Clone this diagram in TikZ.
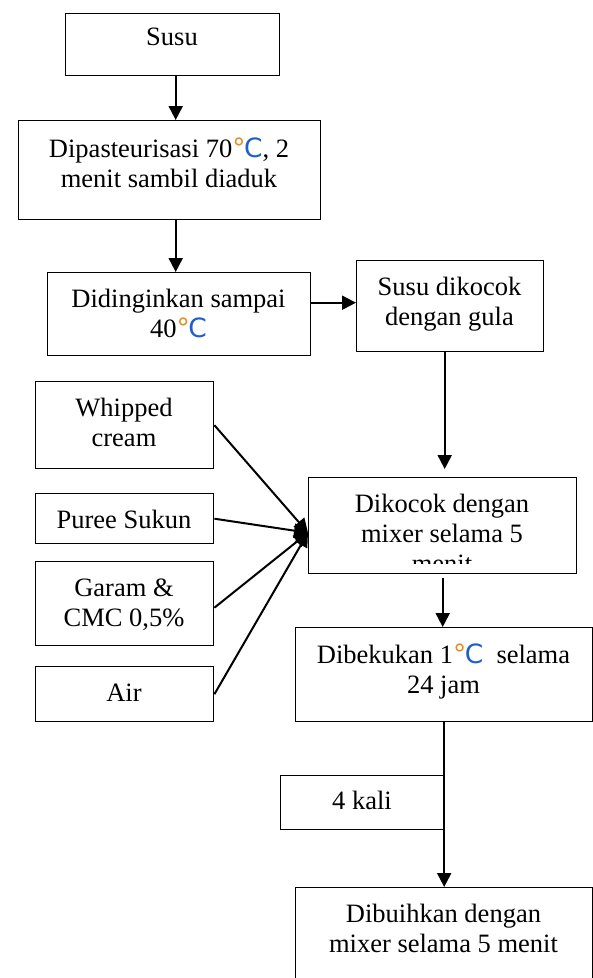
\documentclass[tikz,border=0pt]{standalone}
\usepackage{fontspec}
\setmainfont{Liberation Serif}
\newfontfamily\dejavu{DejaVu Sans}
\usetikzlibrary{arrows.meta}
\definecolor{cblue}{RGB}{30,95,200}
\definecolor{corange}{RGB}{230,140,40}
\newcommand\degC{{\dejavu\textcolor{corange}{°}\kern-1.5pt\textcolor{cblue}{C}}}
\begin{document}
\begin{tikzpicture}[x=1pt,y=-1pt,
  box/.style={draw, line width=1.4pt, rectangle, inner sep=0pt, anchor=north west},
  txt/.style={inner sep=0pt, anchor=base, font=\fontsize{26.5}{30}\selectfont},
  arr/.style={line width=2pt, -{Triangle[width=14pt,length=14pt]}}]
\useasboundingbox (0,0) rectangle (593,978);
\clip (0,0) rectangle (593,978);
% boxes
\node[box, minimum width=214pt, minimum height=62pt] (susu) at (65,13) {};
\node[box, minimum width=302pt, minimum height=99pt] (past) at (18,120) {};
\node[box, minimum width=263pt, minimum height=83pt] (ding) at (47,272) {};
\node[box, minimum width=187pt, minimum height=91pt] (sdk) at (356,260) {};
\node[box, minimum width=178pt, minimum height=87pt] (whip) at (35,381) {};
\node[box, minimum width=178pt, minimum height=50pt] (pure) at (35,493) {};
\node[box, minimum width=178pt, minimum height=84pt] (gara) at (35,561) {};
\node[box, minimum width=178pt, minimum height=55pt] (air) at (35,666) {};
\node[box, minimum width=268pt, minimum height=96pt] (dkc) at (308,477) {};
\node[box, minimum width=297pt, minimum height=94pt] (dbk) at (295,627) {};
\node[box, minimum width=164pt, minimum height=54pt] (kali) at (280,775) {};
\node[box, minimum width=297pt, minimum height=130pt] (dbh) at (295,887) {};
% texts
\node[txt] (tsusu) at (172,45) {Susu};
\node[txt] (tpast) at (169,157) {\begin{tabular}[t]{@{}c@{}}Dipasteurisasi 70\degC, 2\\menit sambil diaduk\end{tabular}};
\node[txt] (tding) at (178.5,307) {\begin{tabular}[t]{@{}c@{}}Didinginkan sampai\\40\degC\end{tabular}};
\node[txt] (tsdk) at (449.5,295) {\begin{tabular}[t]{@{}c@{}}Susu dikocok\\dengan gula\end{tabular}};
\node[txt] (twhip) at (124,416) {\begin{tabular}[t]{@{}c@{}}Whipped\\cream\end{tabular}};
\node[txt] (tpure) at (124,528) {Puree Sukun};
\node[txt] (tgara) at (124,596) {\begin{tabular}[t]{@{}c@{}}Garam \&\\CMC 0,5\%\end{tabular}};
\node[txt] (tair) at (124,701) {Air};
\begin{scope}
\clip (308,477) rectangle (576,563);
\node[txt] (tdkc) at (442,512) {\begin{tabular}[t]{@{}c@{}}Dikocok dengan\\mixer selama 5\\menit\end{tabular}};
\end{scope}
\node[txt] (tdbk) at (443.5,663) {\begin{tabular}[t]{@{}c@{}}Dibekukan 1\degC\ \ selama\\24 jam\end{tabular}};
\node[txt] (tkali) at (362,809) {4 kali};
\node[txt] (tdbh) at (443.5,922) {\begin{tabular}[t]{@{}c@{}}Dibuihkan dengan\\mixer selama 5 menit\end{tabular}};
% connectors
\coordinate (conv) at ([yshift=-7pt]dkc.west);
\draw[arr] ([xshift=3pt]susu.south) -- ([xshift=3pt]susu.south |- past.north);
\draw[arr] ([xshift=6pt]past.south) -- ([xshift=6pt]past.south |- ding.north);
\draw[arr] ([yshift=11.5pt]ding.east) -- ([yshift=11.5pt]ding.east -| sdk.west);
\draw[arr, shorten >=8pt] ([xshift=-5.5pt]sdk.south) -- ([xshift=-5.5pt]sdk.south |- dkc.north);
\draw[arr, shorten <=4pt] (dkc.south) -- (dkc.south |- dbk.north);
\draw[arr] (dbk.south) -- (dbk.south |- dbh.north);
\draw[arr] (whip.east) -- (conv);
\draw[arr] (pure.east) -- (conv);
\draw[arr] ([yshift=-4pt]gara.east) -- (conv);
\draw[arr] (air.east) -- (conv);
\end{tikzpicture}
\end{document}
